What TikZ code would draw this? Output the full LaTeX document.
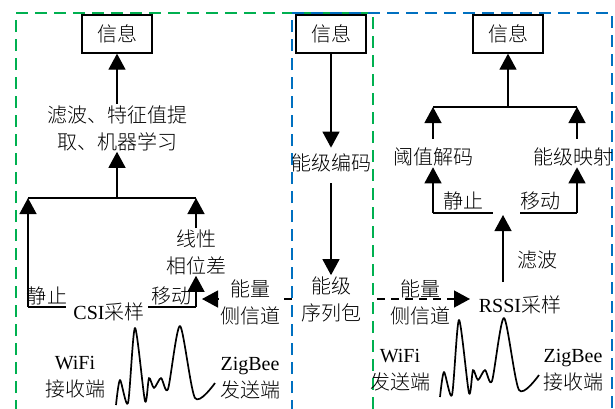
\documentclass[tikz,border=0pt]{standalone}
\usepackage{fontspec}
\setmainfont{Liberation Serif}
\newfontfamily\zhfont{Noto Sans CJK SC Light}
\usepackage{tikz}
\usetikzlibrary{positioning,calc,arrows.meta}
\definecolor{csigreen}{RGB}{0,176,80}
\definecolor{rssiblue}{RGB}{0,112,192}

% received signal shape, drawn from its left foot
\newcommand{\drawwave}[1]{\draw[wave, shift={(#1)}] plot[smooth, tension=0.45] coordinates
    {(0,0) (4,-25) (12,-2) (19,-77) (29,-4) (33,-27) (38,-17) (45,-27) (52,-16) (64,-79) (79,-7) (99,-22)};}

\begin{document}
\begin{tikzpicture}[x=1pt, y=-1pt,
    txt/.style={inner sep=1pt, align=center, font=\fontsize{20}{27}\selectfont\zhfont},
    infobox/.style={txt, draw, line width=1.3pt, minimum width=70pt, minimum height=38pt},
    arr/.style={line width=1.3pt, -{Triangle[length=16pt, width=17pt]}},
    seg/.style={line width=1.3pt},
    frame/.style={line width=1.3pt, dash pattern=on 12pt off 7pt},
    side/.style={line width=1.3pt, dash pattern=on 8pt off 6pt, -{Triangle[length=16pt, width=17pt]}},
    wave/.style={line width=1.7pt, line join=round}]
    \useasboundingbox (0,0) rectangle (615,408);

    % Frames
    \draw[frame, csigreen] (16,412) -- (16,13) -- (373,13) -- (373,412);
    \draw[frame, rssiblue] (292,412) -- (292,13) -- (612,13) -- (612,412);

    % CSI receiver side
    \node[infobox] (infoL) at (117,34) {信息};
    \node[txt] (feat) at (117,128) {滤波、特征值提\\取、机器学习};
    \coordinate (barL) at (28,198);
    \coordinate (barM) at (117,198);
    \coordinate (barR) at (196,198);
    \draw[arr] (feat) -- (infoL);
    \draw[seg] (barL) -- (barR);
    \draw[arr] (barM) -- (feat);
    \node[txt] (phase) at (196,252) {线性\\相位差};
    \draw[arr] (phase) -- (barR);
    \coordinate (stillL) at (28,307);
    \coordinate (stillLe) at (66,307);
    \coordinate (moveLs) at (148,307);
    \coordinate (moveL) at (196,307);
    \draw[arr] (stillL) -- (barL);
    \draw[seg] (stillL) -- (stillLe);
    \draw[seg] (moveLs) -- (moveL);
    \draw[arr] (moveL) -- (phase);
    \node[txt] (stillLt) at (47,296) {静止};
    \node[txt] (moveLt) at (171,296) {移动};
    \node[txt] (csi) at (109,312) {{\rmfamily CSI}采样};
    \coordinate (sideLs) at (292,299);
    \coordinate (sideLe) at (202,299);
    \draw[side] (sideLs) -- (sideLe);
    \node[txt, fill=white] (sideL) at (250,302) {能量\\侧信道};
    \node[txt] (wifiL) at (75,377) {{\rmfamily WiFi}\\接收端};
    \node[txt] (zigL) at (250,378) {{\rmfamily ZigBee}\\发送端};
    \coordinate (waveL) at (116,405);
    \drawwave{waveL}

    % Energy coding
    \node[infobox] (infoM) at (331,34) {信息};
    \node[txt] (enc) at (331,163) {能级编码};
    \node[txt] (pkt) at (331,299) {能级\\序列包};
    \draw[arr, shorten >=5pt] (infoM) -- (enc);
    \draw[arr, shorten <=10pt] (enc) -- (pkt);

    % RSSI receiver side
    \node[infobox] (infoR) at (508,34) {信息};
    \coordinate (barRL) at (433,107);
    \coordinate (barRM) at (508,107);
    \coordinate (barRR) at (577,107);
    \draw[arr] (barRM) -- (infoR);
    \draw[seg] (barRL) -- (barRR);
    \node[txt] (dec) at (433,157) {阈值解码};
    \node[txt] (map) at (573,157) {能级映射};
    \draw[arr, shorten <=8pt] (dec) -- (barRL);
    \draw[arr, shorten <=8pt] (map.north -| barRR) -- (barRR);
    \coordinate (stillR) at (433,213);
    \coordinate (stillRe) at (493,213);
    \coordinate (moveRs) at (520,213);
    \coordinate (moveR) at (577,213);
    \draw[seg] (stillR) -- (stillRe);
    \draw[seg] (moveRs) -- (moveR);
    \draw[arr] (stillR) -- (dec);
    \draw[arr] (moveR) -- (map.south -| moveR);
    \node[txt] (stillRt) at (463,201) {静止};
    \node[txt] (moveRt) at (540,201) {移动};
    \node[txt] (rssi) at (520,305) {{\rmfamily RSSI}采样};
    \coordinate (filtS) at (503,282);
    \coordinate (filtE) at (503,215);
    \draw[arr] (filtS) -- (filtE);
    \node[txt] (filt) at (537,260) {滤波};
    \coordinate (sideRs) at (377,299);
    \coordinate (sideRe) at (470,299);
    \draw[side] (sideRs) -- (sideRe);
    \node[txt] (sideR) at (420,302) {能量\\侧信道};
    \node[txt] (wifiR) at (400,370) {{\rmfamily WiFi}\\发送端};
    \node[txt] (zigR) at (573,370) {{\rmfamily ZigBee}\\接收端};
    \coordinate (waveR) at (440,397);
    \drawwave{waveR}
\end{tikzpicture}
\end{document}
